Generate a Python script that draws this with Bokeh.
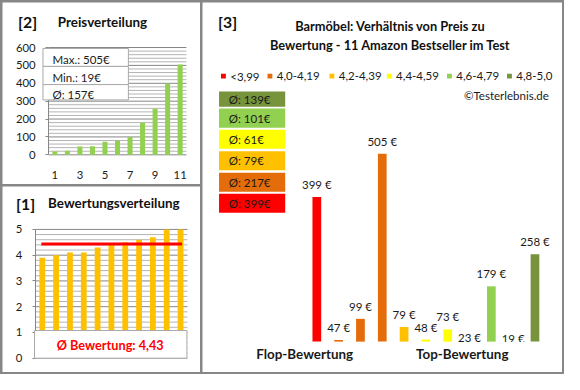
from bokeh.plotting import figure
from bokeh.models import Range1d, FixedTicker, ColumnDataSource, LinearAxis
from bokeh.layouts import row, column
from bokeh.embed import file_html
from bokeh.resources import INLINE
from bokeh.core.properties import value

# ---------------- data ----------------
price_rank = [1, 2, 3, 4, 5, 6, 7, 8, 9, 10, 11]
prices_sorted = [19, 23, 47, 48, 73, 79, 99, 179, 258, 399, 505]
price_ticks_x = [1, 3, 5, 7, 9, 11]
price_ticks_y = [0, 100, 200, 300, 400, 500, 600]
price_minor_y = [v for v in range(0, 601, 20) if v % 100]

rating_rank = [1, 2, 3, 4, 5, 6, 7, 8, 9, 10, 11]
ratings_sorted = [3.9, 4.0, 4.1, 4.1, 4.3, 4.4, 4.5, 4.6, 4.7, 5.0, 5.0]
rating_ticks_y = [0, 1, 2, 3, 4, 5]
rating_minor_y = [i / 5 for i in range(0, 26) if i % 5]
avg_rating = 4.43
avg_rating_text = "Ø Bewertung: 4,43"

groups = ["<3,99", "4,0-4,19", "4,2-4,39", "4,4-4,59", "4,6-4,79", "4,8-5,0"]
group_colors = ["#FF0000", "#E46C0A", "#FFC000", "#FFFF00", "#92D050", "#77933C"]
product_slot = [1, 2, 3, 4, 5, 6, 7, 8, 9, 10, 11]
product_group = [0, 1, 1, 1, 2, 3, 3, 4, 4, 5, 5]
product_price = [399, 47, 99, 505, 79, 48, 73, 23, 179, 19, 258]
price_axis_min = 43
section_labels = ["Flop-Bewertung", "Top-Bewertung"]

title_lines = ["Barmöbel: Verhältnis von Preis zu", "Bewertung - 11 Amazon Bestseller im Test"]
copyright_text = "©Testerlebnis.de"

# ---------------- style ----------------
FONT = "Lato"
TXT = "#1a1a1a"
DARK = "#111111"
GRID_MAJOR = "#868686"
GRID_MINOR = "#b4b4b4"
BORDER = "#878787"
BOXLINE = "#a9a9a9"
F = 0.96
SP = 2
W_L, W_R = 198, 360
H_TOP, H_BOT = 182, 186


def fs(px):
    return f"{px * F:.1f}px"


def half_up(v):
    return int(v + 0.5)


def x_range_for(x0, x1, c0, dk):
    # category k sits at reference pixel c0 + (k-1)*dk
    return Range1d(1 + (x0 - c0) / dk, 1 + (x1 - c0) / dk)


def y_range_for(y0, y1, base, ppu, vmin=0.0):
    # value vmin sits at reference pixel `base`, ppu pixels per unit
    return Range1d(vmin - (y1 - base) / ppu, vmin + (base - y0) / ppu)


def make_panel(w, h, box, xr, yr):
    x0, y0, x1, y1 = box
    p = figure(width=w, height=h, x_range=xr, y_range=yr, x_axis_location=None,
               y_axis_location=None, min_border=0, output_backend="svg",
               toolbar_location=None, title=None)
    p.extra_x_ranges = {"px": Range1d(x0, x1)}
    p.extra_y_ranges = {"px": Range1d(y1, y0)}
    p.outline_line_color = None
    p.background_fill_color = "white"
    p.border_fill_color = "white"
    p.xgrid.visible = False
    p.ygrid.visible = False
    return p


def add_yaxis(p, ticks, bounds, x_loc):
    ya = LinearAxis(fixed_location=x_loc, ticker=FixedTicker(ticks=ticks), bounds=bounds)
    ya.axis_line_color = GRID_MAJOR
    ya.major_tick_line_color = GRID_MAJOR
    ya.major_tick_out = 3
    ya.major_tick_in = 0
    ya.minor_tick_line_color = None
    ya.major_label_standoff = 10
    ya.major_label_text_font = FONT
    ya.major_label_text_font_size = fs(11.8)
    ya.major_label_text_color = TXT
    p.add_layout(ya, "left")


def add_grid(p, major, minor, x0, x1):
    p.segment(x0=x0, x1=x1, y0=minor, y1=minor, line_color=GRID_MINOR, line_width=1)
    p.segment(x0=x0, x1=x1, y0=major, y1=major, line_color=GRID_MAJOR, line_width=1)


def panel_title(p, num, text, y, x_num, x_text):
    p.text(x=[x_num], y=[y], text=[num], x_range_name="px", y_range_name="px",
           text_font=value(FONT), text_font_style="bold", text_font_size=fs(16.5),
           text_color=DARK, text_baseline="middle", text_align="left")
    p.text(x=[x_text], y=[y], text=[text], x_range_name="px", y_range_name="px",
           text_font=value(FONT), text_font_style="bold", text_font_size=fs(14),
           text_color=DARK, text_baseline="middle", text_align="left")


# ---------------- panel [2] Preisverteilung ----------------
box2 = (1, 1, 205, 191)
p2 = make_panel(W_L, H_TOP, box2,
                x_range_for(box2[0], box2[2], 54.95, 12.909),
                y_range_for(box2[1], box2[3], 160, 112 / 600))
add_grid(p2, price_ticks_y, price_minor_y, 0.5, 11.5)
add_yaxis(p2, price_ticks_y, (0, 600), 0.5)
xa = LinearAxis(fixed_location=0, ticker=FixedTicker(ticks=price_ticks_x))
xa.axis_line_color = None
xa.major_tick_line_color = None
xa.major_tick_out = 0
xa.minor_tick_line_color = None
xa.major_label_standoff = 16
xa.major_label_text_font = FONT
xa.major_label_text_font_size = fs(11.8)
xa.major_label_text_color = TXT
p2.add_layout(xa, "below")

p2.vbar(x=price_rank, top=prices_sorted, width=0.4, fill_color="#92D050", line_color=None)

info_texts = [f"Max.: {max(prices_sorted)}€", f"Min.: {min(prices_sorted)}€",
              f"Ø: {half_up(sum(prices_sorted) / len(prices_sorted))}€"]
p2.quad(left=42.7, right=130.7, top=[49, 67.7, 86.7], bottom=[67.7, 86.7, 102.7],
        fill_color="white", line_color=BOXLINE, line_width=1,
        x_range_name="px", y_range_name="px", level="overlay")
p2.text(x=52.5, y=[60.5, 79.5, 97], text=info_texts, x_range_name="px", y_range_name="px",
        text_font=value(FONT), text_font_size=fs(12), text_color=TXT,
        text_baseline="middle", text_align="left", level="overlay")
panel_title(p2, "[2]", "Preisverteilung", 21, 17, 58)

# ---------------- panel [1] Bewertungsverteilung ----------------
box1 = (1, 193, 205, 388)
p1 = make_panel(W_L, H_BOT, box1,
                x_range_for(box1[0], box1[2], 42.0, 14.245),
                y_range_for(box1[1], box1[3], 373, 27.0))
add_grid(p1, rating_ticks_y, rating_minor_y, 0.5, 11.5)
add_yaxis(p1, rating_ticks_y, (0, 5), 0.5)

p1.vbar(x=rating_rank, top=ratings_sorted, width=0.42, fill_color="#FFC000", line_color=None)
p1.segment(x0=[41], x1=[186], y0=[avg_rating], y1=[avg_rating], line_color="#FF0000",
           line_width=3, x_range_name="px")
p1.quad(left=[34], right=[191], top=[344], bottom=[373], fill_color="white",
        line_color=BOXLINE, x_range_name="px", y_range_name="px", level="overlay")
p1.text(x=[112], y=[359.5], text=[avg_rating_text], x_range_name="px", y_range_name="px",
        text_font=value(FONT), text_font_style="bold", text_font_size=fs(13.2),
        text_color="#FF0000", text_baseline="middle", text_align="center", level="overlay")
panel_title(p1, "[1]", "Bewertungsverteilung", 210.5, 15, 48)

# ---------------- panel [3] Preis zu Bewertung ----------------
H_R = H_TOP + SP + H_BOT
box3 = (207, 1, 577, 388)
base_px, px_per_eur = 355.7, 0.4251
p3 = make_panel(W_R, H_R, box3,
                x_range_for(box3[0], box3[2], 324.5, 22.42),
                y_range_for(box3[1], box3[3], base_px, px_per_eur, price_axis_min))

src = ColumnDataSource(dict(
    x=product_slot,
    price=product_price,
    top=[max(v, price_axis_min) for v in product_price],
    color=[group_colors[g] for g in product_group],
    label=[f"{v} €" for v in product_price],
))
p3.vbar(x="x", top="top", bottom=price_axis_min, width=0.4, fill_color="color",
        line_color=None, source=src)
p3.text(x="x", y="price", text="label", source=src, y_offset=-12.5,
        text_font=value(FONT), text_font_size=fs(12), text_color=TXT,
        text_baseline="middle", text_align="center")
# plot-area clip below the axis baseline
p3.quad(left=[300], right=[570], top=[base_px + 0.3], bottom=[box3[3]], fill_color="white",
        line_color=None, x_range_name="px", y_range_name="px")
p3.text(x=[312, 474], y=[369, 369], text=section_labels, x_range_name="px", y_range_name="px",
        text_font=value(FONT), text_font_style="bold", text_font_size=fs(14),
        text_color=TXT, text_baseline="middle", text_align="center")

# titles
p3.text(x=[223], y=[21], text=["[3]"], x_range_name="px", y_range_name="px",
        text_font=value(FONT), text_font_style="bold", text_font_size=fs(16.5),
        text_color=DARK, text_baseline="middle", text_align="left")
p3.text(x=[400, 400], y=[25.5, 45.5], text=title_lines, x_range_name="px", y_range_name="px",
        text_font=value(FONT), text_font_style="bold", text_font_size=fs(13.3),
        text_color=DARK, text_baseline="middle", text_align="center")

# legend row
leg_x = [228.5, 276.3, 340.0, 399.0, 460.8, 522.5]
p3.rect(x=leg_x, y=[78] * len(groups), width=5, height=5, fill_color=group_colors,
        line_color=None, x_range_name="px", y_range_name="px")
p3.text(x=[v + 7 for v in leg_x], y=[78] * len(groups), text=groups,
        x_range_name="px", y_range_name="px",
        text_font=value(FONT), text_font_size=fs(12), text_color=TXT,
        text_baseline="middle", text_align="left")
p3.text(x=[563], y=[98], text=[copyright_text], x_range_name="px", y_range_name="px",
        text_font=value(FONT), text_font_size=fs(12), text_color=TXT,
        text_baseline="middle", text_align="right")

# average boxes per rating group (top: best group)
group_avgs = []
for g in range(len(groups)):
    vals = [v for v, gg in zip(product_price, product_group) if gg == g]
    group_avgs.append(half_up(sum(vals) / len(vals)))
box_top = [201, 179, 156.5, 134, 112, 94]
box_bot = [221, 199, 176.5, 154, 132, 110]
p3.quad(left=224, right=292, top=box_top, bottom=box_bot, fill_color=group_colors,
        line_color=None, x_range_name="px", y_range_name="px")
p3.text(x=234, y=[(a + b) / 2 for a, b in zip(box_top, box_bot)],
        text=[f"Ø: {a}€" for a in group_avgs], x_range_name="px", y_range_name="px",
        text_font=value(FONT), text_font_size=fs(12), text_color=TXT,
        text_baseline="middle", text_align="left")

left = column(p2, p1, spacing=SP)
root = row(left, p3, spacing=SP, styles={"background-color": BORDER, "padding": f"{SP}px"})

open("out.html", "w").write(file_html(root, INLINE))
